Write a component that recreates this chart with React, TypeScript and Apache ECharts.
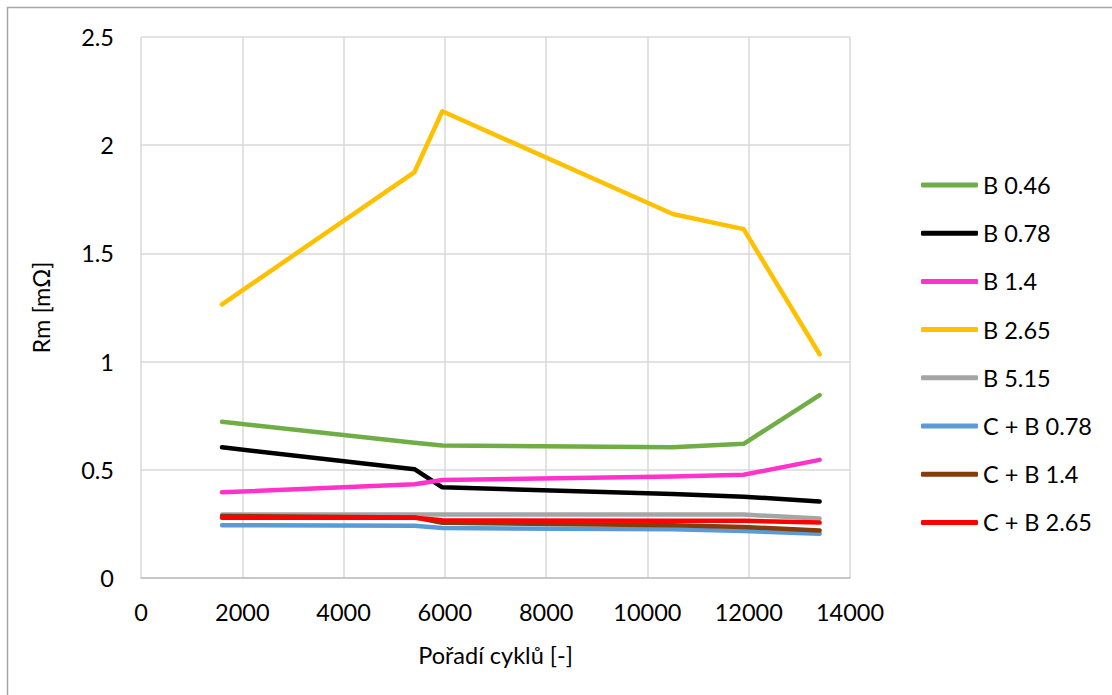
import React, { useEffect, useRef } from "react";
import * as echarts from "echarts";

const cycles = [1600, 5400, 5950, 10500, 11900, 13400];
const seriesNames = ["B 0.46", "B 0.78", "B 1.4", "B 2.65", "B 5.15", "C + B 0.78", "C + B 1.4", "C + B 2.65"];
const b046 = [0.722, 0.625, 0.612, 0.604, 0.62, 0.845];
const b078 = [0.604, 0.503, 0.419, 0.388, 0.376, 0.353];
const b14 = [0.396, 0.433, 0.453, 0.469, 0.477, 0.546];
const b265 = [1.264, 1.876, 2.157, 1.682, 1.612, 1.034];
const b515 = [0.293, 0.294, 0.293, 0.294, 0.293, 0.275];
const cb078 = [0.244, 0.241, 0.231, 0.225, 0.217, 0.205];
const cb14 = [0.286, 0.28, 0.255, 0.244, 0.236, 0.219];
const cb265 = [0.278, 0.278, 0.267, 0.264, 0.264, 0.256];
const seriesValues = [b046, b078, b14, b265, b515, cb078, cb14, cb265];
const seriesColors = ["#70AD47", "#000000", "#FF33CC", "#FFC000", "#A5A5A5", "#5B9BD5", "#843C0C", "#FF0000"];

const xTicks = { min: 0, max: 14000, interval: 2000 };
const yTicks = { min: 0, max: 2.5, interval: 0.5 };

const FONT = "Lato";
const FS = 23.5;

export default function App() {
  const ref = useRef<HTMLDivElement>(null);
  useEffect(() => {
    if (!ref.current) return;
    const chart = echarts.init(ref.current, null, { renderer: "svg" });
    chart.setOption({
      animation: false,
      backgroundColor: "#ffffff",
      textStyle: { fontFamily: FONT },
      graphic: [
        {
          type: "rect",
          shape: { x: 7.5, y: 7.5, width: 1300, height: 900 },
          style: { fill: "none", stroke: "#a6a6a6", lineWidth: 1.5 },
          silent: true,
        },
      ],
      grid: { left: 141, top: 37, width: 709, height: 541, containLabel: false },
      legend: {
        orient: "vertical",
        left: 921,
        top: 173,
        padding: 0,
        itemWidth: 57,
        itemHeight: 5,
        itemGap: 24.2,
        icon: "roundRect",
        data: seriesNames,
        textStyle: { fontFamily: FONT, fontSize: FS, color: "#000", lineHeight: 24 },
      },
      xAxis: {
        type: "value",
        min: xTicks.min,
        max: xTicks.max,
        interval: xTicks.interval,
        name: "Pořadí cyklů [-]",
        nameLocation: "middle",
        nameGap: 65,
        nameTextStyle: { fontFamily: FONT, fontSize: FS, color: "#000" },
        axisLine: { show: true, lineStyle: { color: "#bfbfbf", width: 1.5 } },
        axisTick: { show: false },
        axisLabel: {
          margin: 22,
          fontFamily: FONT,
          fontSize: FS,
          color: "#000",
          formatter: (v: number) => String(v),
        },
        splitLine: { show: true, lineStyle: { color: "#d9d9d9", width: 1.5 } },
      },
      yAxis: {
        type: "value",
        min: yTicks.min,
        max: yTicks.max,
        interval: yTicks.interval,
        name: "Rm [mΩ]",
        nameLocation: "middle",
        nameGap: 88,
        nameTextStyle: { fontFamily: FONT, fontSize: FS, color: "#000" },
        axisLine: { show: false },
        axisTick: { show: false },
        axisLabel: {
          margin: 27,
          fontFamily: FONT,
          fontSize: FS,
          color: "#000",
          formatter: (v: number) => String(v),
        },
        splitLine: { show: true, lineStyle: { color: "#d9d9d9", width: 1.5 } },
      },
      series: seriesNames.map((name, i) => ({
        name,
        type: "line",
        data: cycles.map((c, j) => [c, seriesValues[i][j]]),
        showSymbol: false,
        symbol: "none",
        color: seriesColors[i],
        itemStyle: { color: seriesColors[i] },
        lineStyle: { color: seriesColors[i], width: 4.5, cap: "round", join: "round" },
      })),
    });
    return () => chart.dispose();
  }, []);
  return (
    <div
      ref={ref}
      style={{ position: "fixed", left: 0, top: 0, width: 1112, height: 695, background: "#fff" }}
    />
  );
}
